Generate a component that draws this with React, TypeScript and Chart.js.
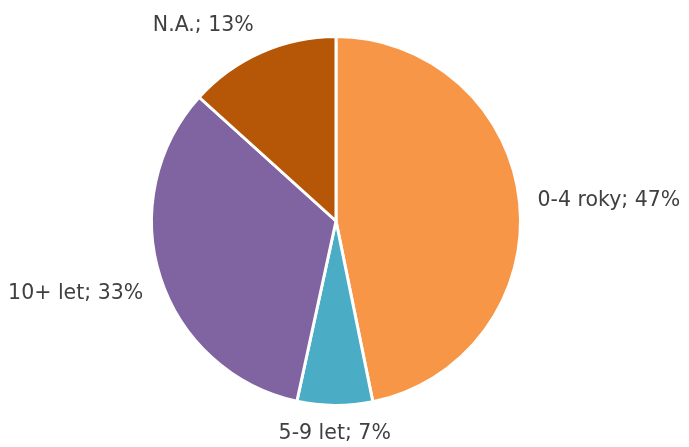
import React, { useEffect, useRef } from "react";
import { Chart, registerables } from "chart.js";

Chart.register(...registerables);

const categories = ["0-4 roky", "5-9 let", "10+ let", "N.A."];
const values = [46.8, 6.6, 33.3, 13.3];
const colors = ["#F79646", "#4BACC6", "#8064A2", "#B65708"];

const labelPlugin = {
  id: "outsideLabels",
  afterDatasetsDraw(chart: any) {
    const ctx = chart.ctx;
    const meta = chart.getDatasetMeta(0);
    const data = chart.data.datasets[0].data as number[];
    ctx.save();
    ctx.font = "20.5px 'DejaVu Sans'";
    ctx.fillStyle = "#404040";
    meta.data.forEach((arc: any, i: number) => {
      const { x, y, startAngle, endAngle, outerRadius } = arc.getProps(
        ["x", "y", "startAngle", "endAngle", "outerRadius"],
        true
      );
      const mid = (startAngle + endAngle) / 2;
      const dx = Math.cos(mid);
      const dy = Math.sin(mid);
      const r = outerRadius + 18;
      const px = x + dx * r;
      const py = y + dy * r;
      ctx.textAlign = Math.abs(dx) < 0.2 ? "center" : dx > 0 ? "left" : "right";
      ctx.textBaseline = dy < -0.2 ? "bottom" : dy > 0.2 ? "top" : "middle";
      ctx.fillText(`${categories[i]}; ${Math.round(data[i])}%`, px, py);
    });
    ctx.restore();
  },
};

export default function App() {
  const ref = useRef<HTMLCanvasElement>(null);
  useEffect(() => {
    if (!ref.current) return;
    const chart = new Chart(ref.current, {
      type: "pie",
      data: {
        labels: categories,
        datasets: [
          {
            data: values,
            backgroundColor: colors,
            borderColor: "#FFFFFF",
            borderWidth: 3,
          },
        ],
      },
      options: {
        responsive: false,
        animation: false,
        layout: { padding: { top: 35, bottom: 40, left: 100, right: 117 } },
        plugins: {
          legend: { display: false },
          tooltip: { enabled: false },
        },
      },
      plugins: [labelPlugin],
    });
    return () => chart.destroy();
  }, []);
  return (
    <div style={{ position: "fixed", left: 0, top: 0, width: 689, height: 447, background: "#fff" }}>
      <canvas ref={ref} width={689} height={447} style={{ width: 689, height: 447 }} />
    </div>
  );
}
